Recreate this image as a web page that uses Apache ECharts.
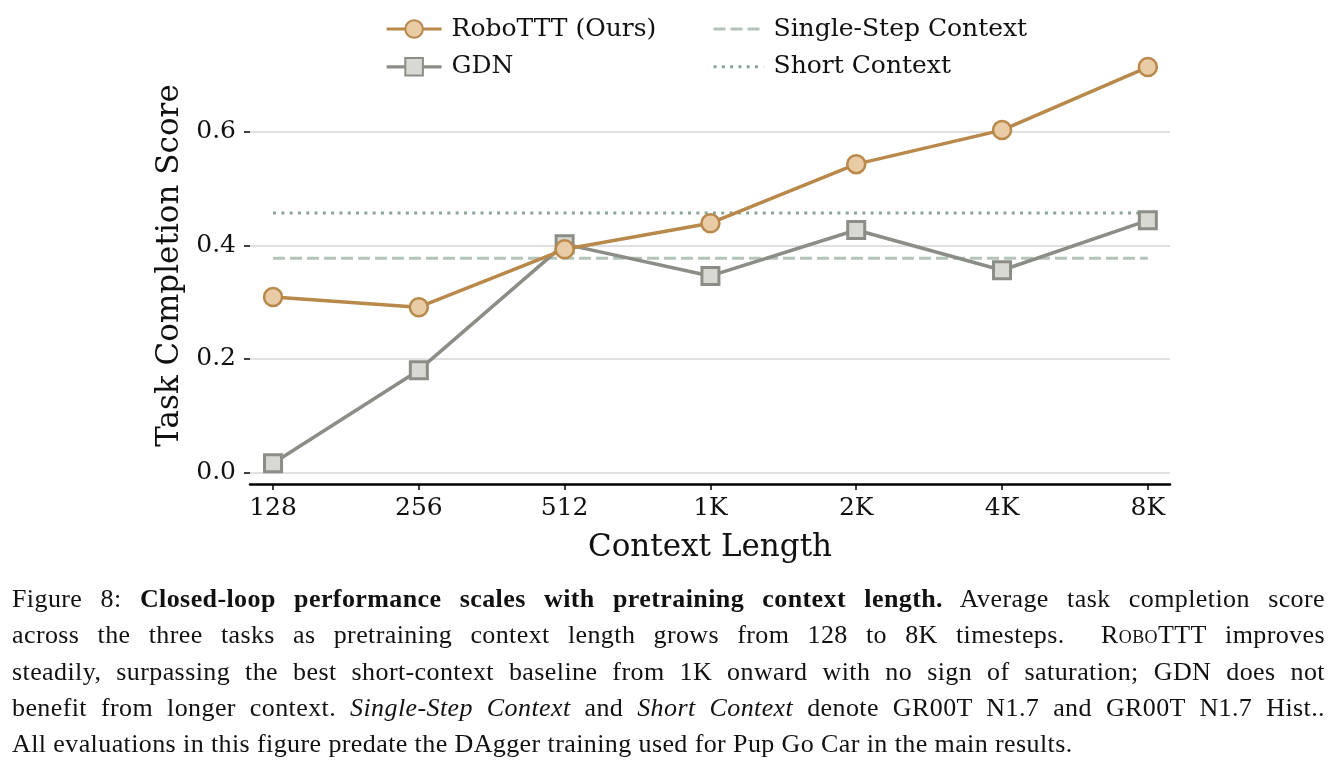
<!DOCTYPE html>
<html>
<head>
<meta charset="utf-8">
<title>Context length scaling</title>
<script src="https://cdn.jsdelivr.net/npm/echarts@6/dist/echarts.min.js"></script>
<style>
    body { margin: 0; background: #fff; }
    #chart { width: 1333px; height: 765px; }
    .caption {
        position: absolute; left: 12px; top: 581px; width: 1313px;
        font-family: "Liberation Serif", serif; font-size: 26px; letter-spacing: 0.4px;
        line-height: 36.3px; color: #111;
    }
    .caption div { text-align: justify; text-align-last: justify; white-space: nowrap; }
    .caption div.last { text-align-last: left; }
    .sc { font-variant: small-caps; }
</style>
</head>
<body>
<div id="chart"></div>
<div class="caption">
    <div>Figure 8: <b>Closed-loop performance scales with pretraining context length.</b> Average task completion score</div>
    <div>across the three tasks as pretraining context length grows from 128 to 8K timesteps.&nbsp; <span class="sc">RoboTTT</span> improves</div>
    <div>steadily, surpassing the best short-context baseline from 1K onward with no sign of saturation; GDN does not</div>
    <div>benefit from longer context. <i>Single-Step Context</i> and <i>Short Context</i> denote GR00T N1.7 and GR00T N1.7 Hist..</div>
    <div class="last">All evaluations in this figure predate the DAgger training used for Pup Go Car in the main results.</div>
</div>
<script>
// 数据
var categories = ["128", "256", "512", "1K", "2K", "4K", "8K"];
var roboTTT = [0.309, 0.291, 0.393, 0.439, 0.543, 0.603, 0.714];
var gdn = [0.016, 0.180, 0.402, 0.346, 0.427, 0.356, 0.444];
var singleStep = 0.377;
var shortContext = 0.457;
var yTicks = [0.0, 0.2, 0.4, 0.6];

(function () {
    var myChart = echarts.init(document.getElementById("chart"));
    var font = "DejaVu Serif";
    var idx = categories.map(function (c, i) { return i; });
    // 把数组转成 [x, y]
    function pts(arr) {
        return arr.map(function (v, i) { return [i, v]; });
    }
    function flat(v) {
        return idx.map(function (i) { return [i, v]; });
    }
    var legendText = { fontFamily: font, fontSize: 25, color: "#111", padding: [0, 0, 0, 5] };
    // 基线图例不显示圆点
    var hidden = { color: "rgba(0,0,0,0)", borderWidth: 0 };
    var option = {
        animation: false,
        grid: { left: 250, right: 163, top: 47, bottom: 281 },
        legend: [
            {
                data: ["RoboTTT (Ours)", "GDN"],
                orient: "vertical", left: 380, top: 11.5,
                itemWidth: 55, itemHeight: 22, itemGap: 12.8,
                lineStyle: { width: 3.2 },
                textStyle: legendText
            },
            {
                data: ["Single-Step Context", "Short Context"],
                orient: "vertical", left: 707, top: 11.5,
                itemWidth: 50, itemHeight: 22, itemGap: 12.8,
                lineStyle: { width: 3 },
                textStyle: legendText
            }
        ],
        xAxis: {
            type: "value",
            min: -0.158,
            max: 6.152,
            name: "Context Length",
            nameLocation: "middle",
            nameGap: 48,
            nameTextStyle: { fontFamily: font, fontSize: 31, color: "#111" },
            axisLine: { show: true, onZero: false, lineStyle: { color: "#000", width: 2.5 } },
            axisTick: { show: true, length: 6, customValues: idx, lineStyle: { color: "#000", width: 1.5 } },
            axisLabel: {
                customValues: idx,
                margin: 12,
                fontFamily: font, fontSize: 25, color: "#111",
                formatter: function (v) { return categories[Math.round(v)]; }
            },
            splitLine: { show: false }
        },
        yAxis: {
            type: "value",
            min: -0.0206,
            max: 0.7494,
            name: "Task Completion Score",
            nameLocation: "middle",
            nameGap: 64,
            nameTextStyle: { fontFamily: font, fontSize: 31, color: "#111" },
            axisLine: { show: false, onZero: false },
            axisTick: { show: true, length: 6, customValues: yTicks, lineStyle: { color: "#000", width: 1.5 } },
            axisLabel: {
                customValues: yTicks,
                margin: 14,
                fontFamily: font, fontSize: 25, color: "#111",
                formatter: function (v) { return v.toFixed(1); }
            },
            splitLine: { show: true, lineStyle: { color: "#d6d6d6", width: 1.5 } }
        },
        series: [
            {
                name: "Single-Step Context",
                type: "line",
                data: flat(singleStep),
                symbol: "circle",
                showSymbol: false,
                z: 1,
                lineStyle: { color: "#b5c4b9", width: 3, type: [12, 5] },
                itemStyle: hidden
            },
            {
                name: "Short Context",
                type: "line",
                data: flat(shortContext),
                symbol: "circle",
                showSymbol: false,
                z: 1,
                lineStyle: { color: "#8aa594", width: 3, type: [3, 5.3] },
                itemStyle: hidden
            },
            {
                name: "GDN",
                type: "line",
                data: pts(gdn),
                symbol: "rect",
                symbolSize: 17,
                z: 2,
                lineStyle: { color: "#8b8e86", width: 3.5 },
                itemStyle: { color: "#d9d9d3", borderColor: "#8b8e86", borderWidth: 3 }
            },
            {
                name: "RoboTTT (Ours)",
                type: "line",
                data: pts(roboTTT),
                symbol: "circle",
                symbolSize: 18,
                z: 3,
                lineStyle: { color: "#b8894a", width: 3.5 },
                itemStyle: { color: "#e9cba6", borderColor: "#b8894a", borderWidth: 2.5 }
            }
        ]
    };
    myChart.setOption(option);
    window.addEventListener("resize", function () {
        myChart.resize();
    });
})();
</script>
</body>
</html>
